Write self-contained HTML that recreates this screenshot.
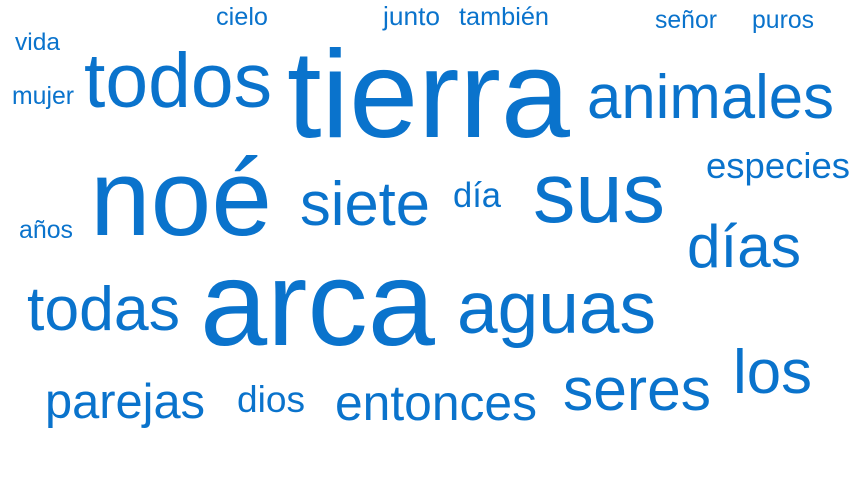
<!DOCTYPE html>
<html><head><meta charset="utf-8"><style>
html,body{margin:0;padding:0;background:#fff;width:858px;height:480px;overflow:hidden}
svg text{font-family:"Liberation Sans",Arial,sans-serif;fill:#0a73cc}
</style></head><body>
<svg width="858" height="480" viewBox="0 0 858 480">
<text x="216" y="25" font-size="25" textLength="52" lengthAdjust="spacingAndGlyphs">cielo</text>
<text x="383" y="25" font-size="26" textLength="57" lengthAdjust="spacingAndGlyphs">junto</text>
<text x="459" y="25" font-size="25" textLength="90" lengthAdjust="spacingAndGlyphs">también</text>
<text x="655" y="28" font-size="25" textLength="62" lengthAdjust="spacingAndGlyphs">señor</text>
<text x="752" y="28" font-size="25" textLength="62" lengthAdjust="spacingAndGlyphs">puros</text>
<text x="15" y="50" font-size="24.5" textLength="45" lengthAdjust="spacingAndGlyphs">vida</text>
<text x="12" y="104" font-size="25" textLength="62" lengthAdjust="spacingAndGlyphs">mujer</text>
<text x="84" y="107" font-size="77" textLength="188" lengthAdjust="spacingAndGlyphs">todos</text>
<text x="287" y="137" font-size="124" textLength="283" lengthAdjust="spacingAndGlyphs">tierra</text>
<text x="587" y="118" font-size="62" textLength="247" lengthAdjust="spacingAndGlyphs">animales</text>
<text x="706" y="178" font-size="36.5" textLength="144" lengthAdjust="spacingAndGlyphs">especies</text>
<text x="90" y="235" font-size="109" textLength="182" lengthAdjust="spacingAndGlyphs">noé</text>
<text x="300" y="225" font-size="62" textLength="130" lengthAdjust="spacingAndGlyphs">siete</text>
<text x="453" y="207" font-size="35" textLength="48" lengthAdjust="spacingAndGlyphs">día</text>
<text x="533" y="222" font-size="85" textLength="132" lengthAdjust="spacingAndGlyphs">sus</text>
<text x="19" y="238" font-size="25" textLength="54" lengthAdjust="spacingAndGlyphs">años</text>
<text x="687" y="267" font-size="60" textLength="114" lengthAdjust="spacingAndGlyphs">días</text>
<text x="27" y="330" font-size="62.5" textLength="153" lengthAdjust="spacingAndGlyphs">todas</text>
<text x="200" y="345" font-size="121" textLength="235" lengthAdjust="spacingAndGlyphs">arca</text>
<text x="457" y="333" font-size="73" textLength="199" lengthAdjust="spacingAndGlyphs">aguas</text>
<text x="733" y="393" font-size="62" textLength="79" lengthAdjust="spacingAndGlyphs">los</text>
<text x="563" y="410" font-size="60.5" textLength="148" lengthAdjust="spacingAndGlyphs">seres</text>
<text x="45" y="418" font-size="49" textLength="160" lengthAdjust="spacingAndGlyphs">parejas</text>
<text x="237" y="412" font-size="37" textLength="68" lengthAdjust="spacingAndGlyphs">dios</text>
<text x="335" y="420" font-size="50" textLength="202" lengthAdjust="spacingAndGlyphs">entonces</text>
</svg>
</body></html>
